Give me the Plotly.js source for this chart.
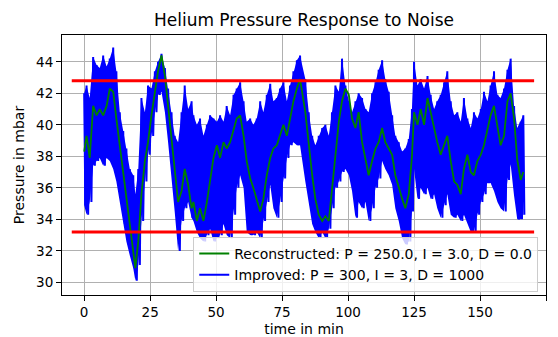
<!DOCTYPE html>
<html>
<head>
<meta charset="utf-8">
<script src="https://cdn.plot.ly/plotly-3.0.1.min.js"></script>
<style>html,body{margin:0;padding:0;background:#fff;}#chart{width:558px;height:337px;}</style>
</head>
<body>
<div id="chart"></div>
<script>
// sample times (min)
const timeMin = [0.0,0.9,2.1,3.4,4.7,5.9,7.2,8.5,9.7,11.0,12.2,13.5,14.8,16.0,17.3,18.6,19.4,20.5,21.7,23.0,24.2,25.5,26.8,28.0,29.3,30.6,31.8,33.1,34.3,35.6,36.9,38.1,39.4,40.7,
  41.4,42.7,43.9,45.2,46.5,47.7,49.0,50.3,51.5,52.8,54.0,55.3,56.6,57.8,59.1,60.4,61.6,62.9,64.1,65.4,66.7,67.9,69.2,70.5,71.7,73.0,74.2,75.5,76.8,78.0,79.3,80.6,81.8,
  83.8,85.1,86.4,87.6,88.9,90.2,91.4,92.7,93.9,95.2,96.5,97.7,99.0,100.3,101.5,102.8,104.0,105.3,106.6,107.8,109.1,110.4,111.6,112.9,114.1,115.4,116.7,117.9,119.2,120.5,121.7,123.0,124.2,
  125.0,126.3,127.5,128.8,130.1,131.3,132.6,133.8,135.1,136.4,137.6,138.9,140.2,141.4,142.7,143.9,145.2,146.5,147.7,149.0,150.3,151.5,152.8,154.0,155.3,156.6,157.8,159.1,160.4,161.6,162.9,164.1,165.4,166.4];
// Improved controller: upper swing of the noisy pressure signal (mbar)
const improvedHigh = [42.0,42.5,41.7,44.3,43.8,43.6,44.4,43.7,44.2,44.9,43.4,40.8,39.6,38.5,37.2,36.8,35.6,37.2,41.7,40.8,42.5,42.3,43.4,44.0,44.5,43.6,42.3,40.8,39.3,38.9,40.8,42.5,41.0,41.5,
  40.6,40.0,40.4,39.3,40.0,40.6,40.4,40.2,40.6,40.2,41.2,40.6,41.9,42.3,42.7,41.5,40.2,40.4,40.0,40.4,41.5,40.8,41.9,42.6,41.5,41.7,42.3,42.7,41.5,42.5,43.4,44.1,44.4,
  42.9,40.8,39.3,38.7,39.3,39.8,40.0,39.3,40.8,42.5,42.1,44.2,42.5,41.5,40.8,41.5,42.0,41.7,41.0,40.8,42.0,42.7,43.5,44.1,42.9,42.1,40.6,39.3,38.9,38.3,38.5,39.1,41.0,
  44.0,42.5,42.9,42.3,43.1,41.9,41.0,41.5,41.9,42.7,43.4,41.5,40.6,40.8,40.2,41.7,40.4,39.8,40.8,40.4,41.0,42.1,41.5,42.5,43.4,41.9,41.7,42.3,43.5,44.2,41.2,39.8,40.2,40.6];
// Improved controller: lower swing of the noisy pressure signal (mbar)
const improvedLow = [34.9,34.3,35.1,37.4,37.7,37.9,37.4,37.9,37.7,37.2,36.4,35.1,33.7,32.6,31.7,30.9,30.1,31.1,33.9,36.4,38.1,39.3,40.8,41.9,42.1,40.8,38.9,36.8,34.5,32.0,33.9,34.7,35.1,34.1,
  33.9,33.2,32.8,32.6,33.0,33.4,32.6,32.8,33.0,33.7,33.0,32.8,34.3,36.0,36.8,36.0,33.2,33.0,33.0,33.2,32.8,33.9,35.1,36.2,34.7,34.1,35.1,36.6,37.9,38.7,38.9,38.7,38.7,
  36.4,34.9,33.7,33.2,32.8,33.2,32.8,33.4,34.7,36.0,36.4,37.0,37.2,36.8,35.8,34.1,35.1,34.7,35.1,33.9,34.7,36.0,36.6,37.7,37.2,36.8,36.2,34.7,33.9,32.8,32.4,32.6,34.5,
  37.2,35.3,36.0,35.6,36.0,35.3,35.6,34.7,34.1,34.9,35.6,34.3,34.1,34.3,33.9,34.3,33.7,33.2,33.2,34.3,35.1,35.6,36.3,36.3,35.8,35.1,34.7,34.5,36.5,37.5,35.5,34.0,34.0,34.3];
// Reconstructed controller pressure (mbar)
const reconstructed = [38.3,39.3,37.9,41.2,40.6,41.0,40.6,41.2,42.3,42.1,40.4,38.7,36.8,35.1,33.6,32.0,30.9,32.6,35.6,37.7,38.9,40.6,42.1,43.4,44.4,43.1,41.2,39.1,37.2,35.1,35.8,37.2,36.2,34.7,
  35.1,33.9,34.7,33.9,35.1,36.6,37.9,38.7,37.9,38.9,38.5,38.9,39.6,40.4,40.6,39.3,37.7,36.6,36.0,35.3,34.5,35.3,36.8,37.9,38.5,38.7,39.3,40.0,39.3,40.4,41.5,42.3,42.9,
  40.8,38.7,36.8,35.3,34.3,33.9,34.2,33.9,36.0,38.3,40.2,41.5,42.3,41.9,40.4,39.8,40.8,38.9,37.9,36.8,37.7,38.5,38.9,39.8,38.9,38.5,38.1,36.8,36.0,35.3,34.7,35.6,38.0,
  40.8,40.0,41.0,40.0,41.7,40.8,39.8,38.9,38.1,38.7,39.3,37.7,36.4,36.2,35.6,37.2,38.1,37.0,36.8,37.7,38.1,38.7,39.6,40.6,41.2,39.8,38.7,39.3,41.5,42.0,40.4,37.8,36.5,37.0];
// tolerance band
const limitX = [-4.7, 170.5];
const upperLimit = 42.8;
const lowerLimit = 33.2;
const xTicks = [0,25,50,75,100,125,150,175];
const yTicks = [30,32,34,36,38,40,42,44];

// build zig-zag for the noisy signal from its swings
const bx = [], by = [];
for (let i = 0; i < timeMin.length; i++) {
  const next = i < timeMin.length - 1 ? timeMin[i+1] : timeMin[i] + 0.8;
  bx.push(timeMin[i]); by.push(improvedHigh[i]);
  bx.push((timeMin[i] + next) / 2); by.push(improvedLow[i]);
}

const font = {family: 'DejaVu Sans', size: 14, color: '#000'};
const tickFont = {family: 'DejaVu Sans', size: 13.5, color: '#000'};
const traces = [
  {x: timeMin, y: improvedHigh, mode: 'lines', line: {color: 'rgba(0,0,255,0)', width: 0}, showlegend: false, hoverinfo: 'skip'},
  {x: timeMin, y: improvedLow, mode: 'lines', line: {color: 'rgba(0,0,255,0)', width: 0}, fill: 'tonexty', fillcolor: '#0000ff', showlegend: false, hoverinfo: 'skip'},
  {x: bx, y: by, mode: 'lines', line: {color: '#0000ff', width: 2}, name: 'Improved: P = 300, I = 3, D = 1000', legendrank: 2},
  {x: timeMin, y: reconstructed, mode: 'lines', line: {color: '#008000', width: 1.8}, name: 'Reconstructed: P = 250.0, I = 3.0, D = 0.0', legendrank: 1},
  {x: limitX, y: [upperLimit, upperLimit], mode: 'lines', line: {color: '#ff0000', width: 3}, showlegend: false},
  {x: limitX, y: [lowerLimit, lowerLimit], mode: 'lines', line: {color: '#ff0000', width: 3}, showlegend: false}
];
const axisCommon = {
  showline: true, linecolor: '#000', linewidth: 1, mirror: true,
  ticks: 'outside', ticklen: 5, tickcolor: '#000', tickwidth: 1,
  showgrid: true, gridcolor: '#b0b0b0', gridwidth: 1, zeroline: false,
  tickfont: tickFont
};
const layout = {
  width: 558, height: 337,
  margin: {l: 62, r: 12, t: 35, b: 42},
  paper_bgcolor: '#fff', plot_bgcolor: '#fff',
  font: font,
  title: {text: 'Helium Pressure Response to Noise', font: {family: 'DejaVu Sans', size: 17, color: '#000'},
          xref: 'paper', x: 0.5, xanchor: 'center', yref: 'container', y: 0.94, yanchor: 'middle'},
  xaxis: Object.assign({}, axisCommon, {range: [-8.4, 175], tickvals: xTicks, ticktext: xTicks.map(String),
          title: {text: 'time in min', font: font, standoff: 4}}),
  yaxis: Object.assign({}, axisCommon, {range: [29.2, 45.7], tickvals: yTicks, ticktext: yTicks.map(String),
          title: {text: 'Pressure in mbar', font: font, standoff: 8}}),
  showlegend: true,
  legend: {x: 0.984, y: 0.012, xanchor: 'right', yanchor: 'bottom', bgcolor: 'rgba(255,255,255,0.8)',
           bordercolor: '#cccccc', borderwidth: 1, font: font, traceorder: 'normal', itemwidth: 30}
};
Plotly.newPlot('chart', traces, layout, {staticPlot: true, displayModeBar: false});
</script>
</body>
</html>
